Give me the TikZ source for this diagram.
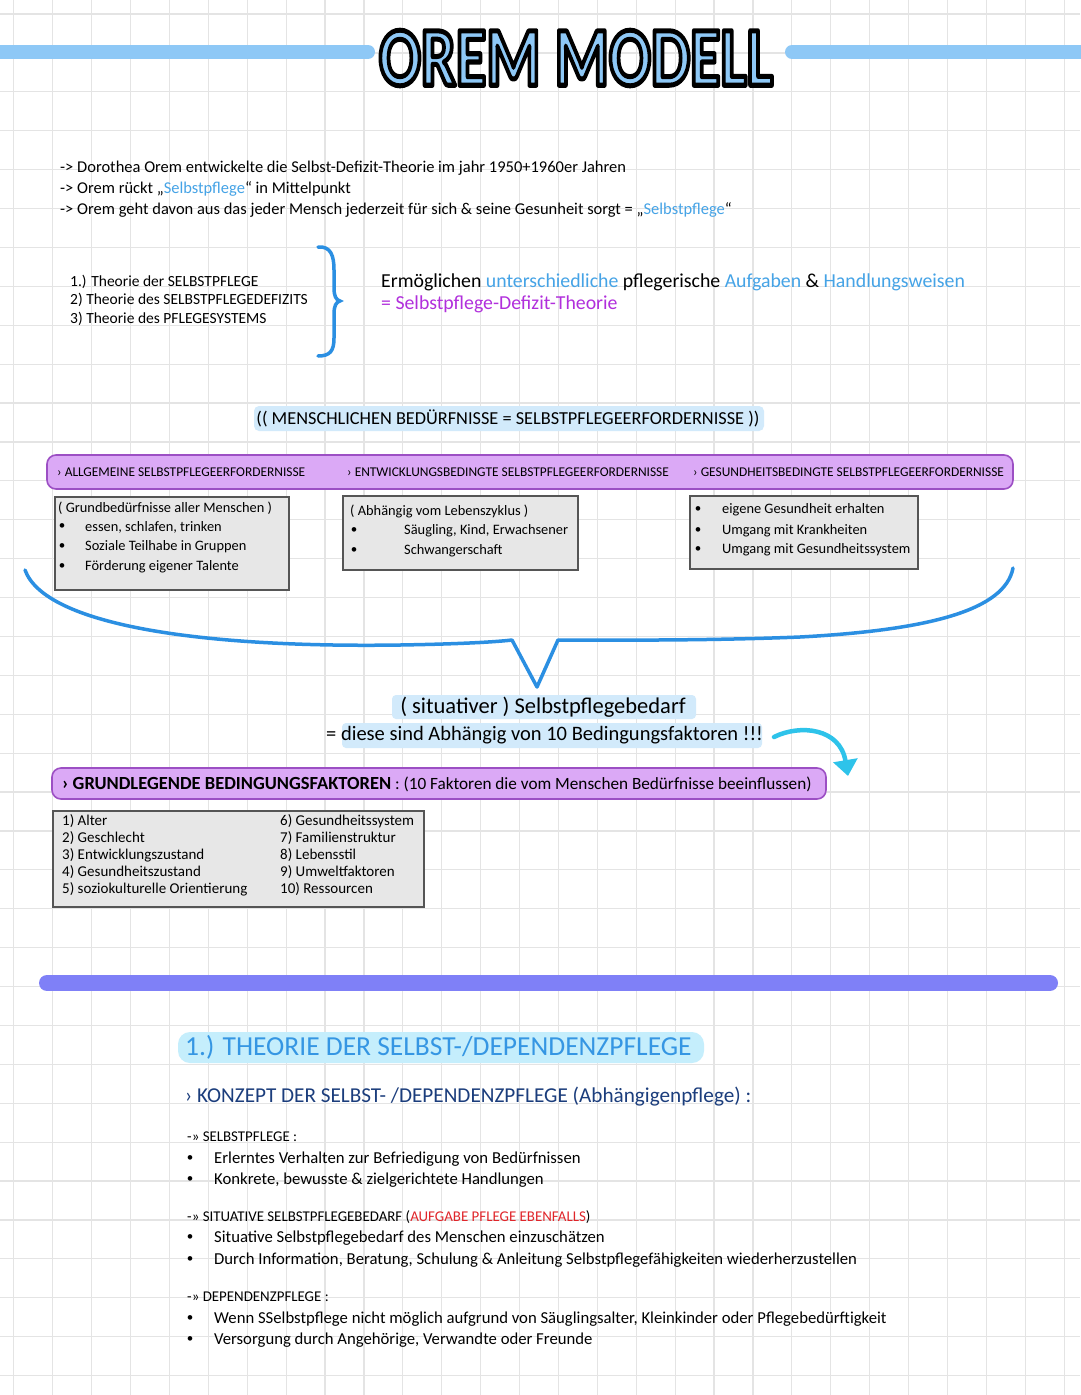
\documentclass[tikz,border=0pt]{standalone}
\usepackage{fontspec}
\usepackage{graphicx}
\setmainfont{Carlito}
\usetikzlibrary{arrows.meta}
\definecolor{gridc}{HTML}{E4E4E4}
\definecolor{titleblue}{HTML}{8EC8F6}
\definecolor{bluetxt}{HTML}{45A3E6}
\definecolor{purpletxt}{HTML}{B12FDC}
\definecolor{hl}{HTML}{D2EAFB}
\definecolor{barfill}{HTML}{DBA9F6}
\definecolor{bardraw}{HTML}{9C4FC4}
\definecolor{boxfill}{HTML}{E7E7E7}
\definecolor{boxdraw}{HTML}{555555}
\definecolor{bracecol}{HTML}{2B8FE2}
\definecolor{arrowc}{HTML}{2EC3EA}
\definecolor{sepc}{HTML}{7F80F7}
\definecolor{theorybg}{HTML}{C5EEFC}
\definecolor{theorytxt}{HTML}{3596E3}
\definecolor{navy}{HTML}{1B3D7C}
\definecolor{redtxt}{HTML}{E0252A}
\newcommand{\sz}[1]{\fontsize{#1}{#1}\selectfont}
\newcommand{\bl}[1]{\textcolor{bluetxt}{#1}}
\newcommand{\outlinetxt}[1]{\special{pdf:literal direct q 0.557 0.784 0.965 rg 0 0 0 RG 2 Tr 5 w 1 j}#1\special{pdf:literal direct Q}}
\newcommand{\titletxt}{\scalebox{0.74}[1]{\sz{84}\bfseries\outlinetxt{OREM MODELL}}}
\begin{document}
\begin{tikzpicture}[x=1pt,y=-1pt,
  txt/.style={anchor=west,inner sep=0pt,font=\sz{16.5}},
  small/.style={anchor=west,inner sep=0pt,font=\sz{14.4}},
  tiny/.style={anchor=west,inner sep=0pt,font=\sz{13.4}},
  graybox/.style={draw=boxdraw,fill=boxfill,line width=1.3pt},
  purplebar/.style={draw=bardraw,fill=barfill,line width=1.6pt,rounded corners=9pt},
  bulletn/.style={anchor=center,inner sep=0pt,font=\sz{13}}]
\useasboundingbox (0,0) rectangle (1080,1395);
\fill[white] (0,0) rectangle (1080,1395);
% grid
\foreach \i in {0,...,27} \draw[gridc,line width=1.2pt] ({13.8+38.9*\i},0) -- ({13.8+38.9*\i},1395);
\foreach \j in {0,...,35} \draw[gridc,line width=1.2pt] (0,{14+38.9*\j}) -- (1080,{14+38.9*\j});

% title bars
\coordinate (tl0) at (-10,52); \coordinate (tl1) at (368,52);
\coordinate (tr0) at (792,52); \coordinate (tr1) at (1090,52);
\draw[titleblue,line width=14pt,line cap=round] (tl0) -- (tl1);
\draw[titleblue,line width=14pt,line cap=round] (tr0) -- (tr1);
% title
\node[inner sep=0pt] (title) at (576,58) {\titletxt};

% intro
\node[txt] (i1) at (60,168) {-> Dorothea Orem entwickelte die Selbst-Defizit-Theorie im jahr 1950+1960er Jahren};
\node[txt] (i2) at (60,189) {-> Orem rückt „\bl{Selbstpflege}“ in Mittelpunkt};
\node[txt] (i3) at (60,210) {-> Orem geht davon aus das jeder Mensch jederzeit für sich \& seine Gesunheit sorgt = „\bl{Selbstpflege}“};

% theories
\node[small,font=\sz{15.5}] (th1) at (70,282) {1.) Theorie der SELBSTPFLEGE};
\node[small,font=\sz{15.5}] (th2) at (70,300) {2) Theorie des SELBSTPFLEGEDEFIZITS};
\node[small,font=\sz{15.5}] (th3) at (70,319) {3) Theorie des PFLEGESYSTEMS};
\draw[bracecol,line width=3.5pt,line cap=round]
  (318,247) .. controls (331,246) and (334,256) .. (334,270) -- (334,288)
  .. controls (334,296) and (336,300) .. (340,301)
  .. controls (336,302) and (334,306) .. (334,314) -- (334,338)
  .. controls (334,351) and (330,356) .. (318,356);
\node[txt,font=\sz{19.8}] (erm) at (381,282) {Ermöglichen \bl{unterschiedliche} pflegerische \bl{Aufgaben} \& \bl{Handlungsweisen}};
\node[txt,font=\sz{19.8},text=purpletxt] (sdt) at (381,304) {= Selbstpflege-Defizit-Theorie};

% needs header
\fill[hl,rounded corners=5pt] (254,406) rectangle (764,431);
\node[anchor=center,inner sep=0pt,font=\sz{18.3}] (needs) at (508,418) {(( MENSCHLICHEN BEDÜRFNISSE = SELBSTPFLEGEERFORDERNISSE ))};

% purple bar
\draw[purplebar] (47,455) rectangle (1013,489);
\node[tiny] (p1) at (57,472) {› ALLGEMEINE SELBSTPFLEGEERFORDERNISSE};
\node[tiny] (p2) at (347,472) {› ENTWICKLUNGSBEDINGTE SELBSTPFLEGEERFORDERNISSE};
\node[tiny] (p3) at (693,472) {› GESUNDHEITSBEDINGTE SELBSTPFLEGEERFORDERNISSE};

% gray boxes
\draw[graybox] (55,497) rectangle (289,590);
\node[small] (b1t) at (58,508) {( Grundbedürfnisse aller Menschen )};
\foreach \y/\t [count=\k] in {527/{essen, schlafen, trinken},547/{Soziale Teilhabe in Gruppen},567/{Förderung eigener Talente}}{
  \node[bulletn] (b1d\k) at (62,\y) {•};
  \node[small] (b1i\k) at (85,\y) {\t};}
\draw[graybox] (343,496) rectangle (578,570);
\node[small] (b2t) at (350,511) {( Abhängig vom Lebenszyklus )};
\foreach \y/\t [count=\k] in {531/{Säugling, Kind, Erwachsener},551/{Schwangerschaft}}{
  \node[bulletn] (b2d\k) at (354,\y) {•};
  \node[small] (b2i\k) at (404,\y) {\t};}
\draw[graybox] (690,496) rectangle (918,569);
\foreach \y/\t [count=\k] in {510/{eigene Gesundheit erhalten},531/{Umgang mit Krankheiten},550/{Umgang mit Gesundheitssystem}}{
  \node[bulletn] (b3d\k) at (698,\y) {•};
  \node[small] (b3i\k) at (722,\y) {\t};}

% big brace
\draw[bracecol,line width=3.5pt,line cap=round,line join=round]
  (25,570) .. controls (45,625) and (200,648) .. (400,645)
  .. controls (460,644) and (495,642) .. (512,640)
  -- (537,687) -- (558,640)
  .. controls (600,640) and (700,641) .. (800,637)
  .. controls (930,630) and (1005,610) .. (1013,568);

% situativer
\fill[hl,rounded corners=4pt] (392,695) rectangle (696,719);
\node[anchor=center,inner sep=0pt,font=\sz{22.5}] (sit) at (543,707) {( situativer ) Selbstpflegebedarf};
\fill[hl,rounded corners=4pt] (342,723) rectangle (762,748);
\node[txt,font=\sz{20.5}] (abh) at (326,735) {= diese sind Abhängig von 10 Bedingungsfaktoren !!!};
\coordinate (arr0) at (774,737);
\coordinate (arr1) at (848,776);
\draw[arrowc,line width=4.5pt,line cap=round,-{Triangle[width=24pt,length=16pt]}]
  (arr0) .. controls (800,724) and (840,728) .. (arr1);

% grundlegende bar
\draw[purplebar] (52,768) rectangle (826,799);
\node[txt,font=\sz{18.5}\bfseries] (gb) at (62,784) {› GRUNDLEGENDE BEDINGUNGSFAKTOREN\mdseries\sz{17.2} : (10 Faktoren die vom Menschen Bedürfnisse beeinflussen)};

% factors box
\draw[graybox] (53,811) rectangle (424,907);
\foreach \y/\a/\b [count=\k] in {821/{1) Alter}/{6) Gesundheitssystem},838/{2) Geschlecht}/{7) Familienstruktur},855/{3) Entwicklungszustand}/{8) Lebensstil},872/{4) Gesundheitszustand}/{9) Umweltfaktoren},889/{5) soziokulturelle Orientierung}/{10) Ressourcen}}{
  \node[small,font=\sz{15}] (fa\k) at (62,\y) {\a};
  \node[small,font=\sz{15}] (fb\k) at (280,\y) {\b};}

% separator
\coordinate (s0) at (47,983); \coordinate (s1) at (1050,983);
\draw[sepc,line width=16pt,line cap=round] (s0) -- (s1);

% section 1
\fill[theorybg,rounded corners=12pt] (178,1032) rectangle (704,1063);
\node[txt,font=\sz{27.5},text=theorytxt] (sec) at (185,1047) {1.) THEORIE DER SELBST-/DEPENDENZPFLEGE};
\node[txt,font=\sz{21.2},text=navy] (konz) at (185,1097) {› KONZEPT DER SELBST- /DEPENDENZPFLEGE (Abhängigenpflege) :};

\node[small,font=\sz{14.9}] (h1) at (187,1137) {-» SELBSTPFLEGE :};
\node[small,font=\sz{14.9}] (h2) at (187,1217) {-» SITUATIVE SELBSTPFLEGEBEDARF (\textcolor{redtxt}{AUFGABE PFLEGE EBENFALLS})};
\node[small,font=\sz{14.9}] (h3) at (187,1297) {-» DEPENDENZPFLEGE :};
\foreach \y/\t [count=\k] in {1159/{Erlerntes Verhalten zur Befriedigung von Bedürfnissen},1180/{Konkrete, bewusste \& zielgerichtete Handlungen},1238/{Situative Selbstpflegebedarf des Menschen einzuschätzen},1260/{Durch Information, Beratung, Schulung \& Anleitung Selbstpflegefähigkeiten wiederherzustellen},1319/{Wenn SSelbstpflege nicht möglich aufgrund von Säuglingsalter, Kleinkinder oder Pflegebedürftigkeit},1340/{Versorgung durch Angehörige, Verwandte oder Freunde}}{
  \node[bulletn] (ld\k) at (190,\y) {•};
  \node[txt,font=\sz{16.7}] (li\k) at (214,\y) {\t};}
\end{tikzpicture}
\end{document}
